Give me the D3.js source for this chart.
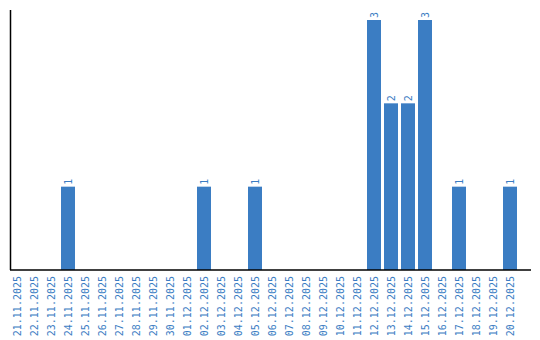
<!DOCTYPE html>
<html>
<head>
<meta charset="utf-8">
<script src="https://d3js.org/d3.v7.min.js"></script>
<style>
body { margin: 0; background: #fff; }
text { font-family: "DejaVu Sans Mono", monospace; }
</style>
</head>
<body>
<svg id="chart" width="540" height="340"></svg>
<script>
// dates on the x axis
var dates = ["21.11.2025","22.11.2025","23.11.2025","24.11.2025","25.11.2025","26.11.2025",
  "27.11.2025","28.11.2025","29.11.2025","30.11.2025","01.12.2025","02.12.2025","03.12.2025",
  "04.12.2025","05.12.2025","06.12.2025","07.12.2025","08.12.2025","09.12.2025","10.12.2025",
  "11.12.2025","12.12.2025","13.12.2025","14.12.2025","15.12.2025","16.12.2025","17.12.2025",
  "18.12.2025","19.12.2025","20.12.2025"];
// counts per day
var counts = [0,0,0,1,0,0,0,0,0,0,0,1,0,0,1,0,0,0,0,0,0,3,2,2,3,0,1,0,0,1];

var blue = "#3b7dc3";
var svg = d3.select("#chart");

var x = d3.scaleBand()
  .domain(dates)
  .range([10, 517])
  .paddingInner(3 / 17)
  .paddingOuter(0);

var y = d3.scaleLinear()
  .domain([0, 3.12])
  .range([270, 10]);

var data = dates.map(function(d, i) { return { date: d, value: counts[i] }; });

// bars
svg.selectAll("rect.bar")
  .data(data.filter(function(d) { return d.value > 0; }))
  .enter().append("rect")
  .attr("class", "bar")
  .attr("x", function(d) { return x(d.date); })
  .attr("y", function(d) { return y(d.value); })
  .attr("width", x.bandwidth())
  .attr("height", function(d) { return y(0) - y(d.value); })
  .attr("fill", blue);

// value labels
svg.selectAll("text.val")
  .data(data.filter(function(d) { return d.value > 0; }))
  .enter().append("text")
  .attr("class", "val")
  .attr("transform", function(d) {
    return "translate(" + (x(d.date) + x.bandwidth() / 2 + 3.5) + "," + (y(d.value) - 2) + ") rotate(-90)";
  })
  .attr("font-size", "10px")
  .attr("fill", blue)
  .text(function(d) { return d.value; });

// x axis labels
var xa = svg.append("g")
  .attr("transform", "translate(0,270)")
  .call(d3.axisBottom(x).tickSize(0).tickPadding(0));
xa.select(".domain").remove();
xa.selectAll("text")
  .attr("font-family", "DejaVu Sans Mono, monospace")
  .attr("font-size", "10px")
  .attr("fill", blue)
  .attr("text-anchor", "end")
  .attr("dy", null)
  .attr("y", 0)
  .attr("transform", "translate(3.5,6) rotate(-90)");

// axis lines
svg.append("line")
  .attr("x1", 10).attr("x2", 531)
  .attr("y1", y(0)).attr("y2", y(0))
  .attr("stroke", "#000").attr("stroke-width", 1.5);
svg.append("line")
  .attr("x1", 10.5).attr("x2", 10.5)
  .attr("y1", 10).attr("y2", y(0))
  .attr("stroke", "#000").attr("stroke-width", 1.5);
</script>
</body>
</html>
